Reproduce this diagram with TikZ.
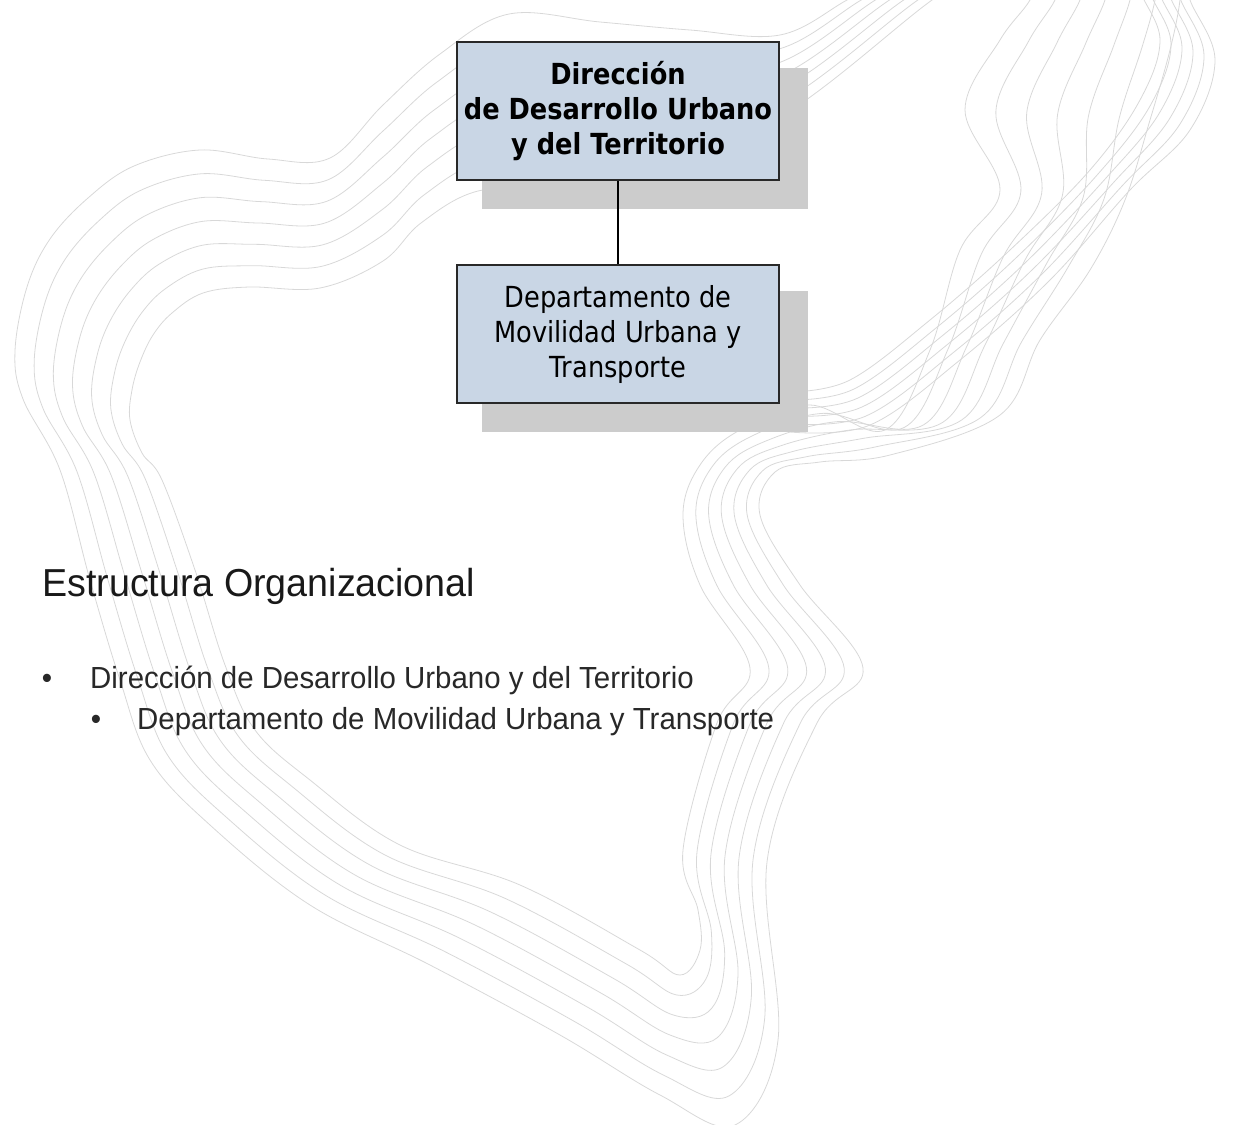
\documentclass[tikz,border=0pt]{standalone}
\usepackage{fontspec}
\usetikzlibrary{calc}
\newfontfamily\boxfont[FakeStretch=0.885]{DejaVu Sans}
\newfontfamily\helvfont[FakeStretch=0.965]{Liberation Sans}
\definecolor{boxblue}{RGB}{201,214,229}
\definecolor{boxedge}{RGB}{40,40,40}
\definecolor{shadowgray}{RGB}{204,204,204}
\definecolor{decorgray}{RGB}{216,216,216}
\definecolor{bodytext}{RGB}{40,40,40}
\pgfdeclarelayer{decor}
\pgfdeclarelayer{shade}
\pgfsetlayers{decor,shade,main}
\begin{document}
\begin{tikzpicture}[x=1pt,y=-1pt,
  orgbox/.style={draw=boxedge, line width=1.6pt, fill=boxblue,
    minimum width=322pt, minimum height=138pt, inner sep=0pt, align=center,
    font=\boxfont\fontsize{29}{35}\selectfont},
  decorline/.style={draw=decorgray, line width=0.8pt},
  shadowfill/.style={fill=shadowgray},
  linkline/.style={draw=black, line width=1.5pt},
  titletext/.style={anchor=base west, inner sep=0pt, text=black!90,
    font=\helvfont\fontsize{39}{45}\selectfont},
  itemtext/.style={anchor=base west, inner sep=0pt, text=bodytext,
    font=\helvfont\fontsize{30.5}{36}\selectfont},
  bulletmark/.style={anchor=base, inner sep=0pt, text=bodytext,
    font=\helvfont\fontsize{30.5}{36}\selectfont}]
\useasboundingbox (0,0) rectangle (1236,1124);

% ---- background wavy bundles ----
\begin{pgfonlayer}{decor}
\begin{scope}
\clip (0,0) rectangle (1236,1124);
\foreach \k in {0,...,6}{
  \pgfmathsetmacro{\t}{\k/6}
  \draw[decorline] plot[smooth, tension=0.6] coordinates {
    ($(900,-30)!\t!(985,-30)$) ($(847,0)!\t!(932,0)$) ($(780,35)!\t!(780,117)$)
    ($(690,30)!\t!(640,170)$) ($(600,22)!\t!(560,188)$) ($(509,14)!\t!(478,191)$)
    ($(440,54)!\t!(421,223)$) ($(383,105)!\t!(383,261)$) ($(330,158)!\t!(320,288)$)
    ($(268,159)!\t!(249,287)$) ($(200,150)!\t!(203,293)$) ($(134,166)!\t!(172,313)$)
    ($(88,198)!\t!(153,335)$) ($(50,239)!\t!(140,362)$) ($(27,287)!\t!(132,390)$)
    ($(15,351)!\t!(130,420)$) ($(23,399)!\t!(142,453)$) ($(60,470)!\t!(162,480)$)
    ($(90,580)!\t!(195,570)$) ($(120,680)!\t!(225,665)$) ($(150,760)!\t!(255,730)$)
    ($(210,825)!\t!(310,780)$) ($(310,905)!\t!(400,845)$) ($(430,965)!\t!(520,885)$)
    ($(560,1035)!\t!(640,950)$) ($(660,1095)!\t!(680,975)$) ($(735,1125)!\t!(700,950)$)
    ($(778,1040)!\t!(698,910)$) ($(767,862)!\t!(683,850)$) ($(817,723)!\t!(717,723)$)
    ($(863,668)!\t!(750,668)$) ($(800,585)!\t!(700,585)$) ($(760,515)!\t!(683,515)$)
    ($(775,472)!\t!(700,465)$) ($(820,462)!\t!(740,430)$) ($(890,455)!\t!(810,405)$)
    ($(1000,415)!\t!(885,430)$) ($(1040,340)!\t!(930,350)$) ($(1090,270)!\t!(960,250)$)
    ($(1125,200)!\t!(1000,190)$) ($(1150,120)!\t!(965,110)$) ($(1170,50)!\t!(1000,40)$)
    ($(1180,0)!\t!(1030,0)$) ($(1180,-30)!\t!(1040,-30)$)
  };
}
\foreach \k in {0,...,5}{
  \pgfmathsetmacro{\t}{\k/5}
  \draw[decorline] plot[smooth, tension=0.6] coordinates {
    ($(790,432)!\t!(790,392)$) ($(870,425)!\t!(850,380)$) ($(960,360)!\t!(930,320)$)
    ($(1050,280)!\t!(1010,250)$) ($(1130,190)!\t!(1090,170)$) ($(1190,130)!\t!(1140,100)$)
    ($(1215,60)!\t!(1160,40)$) ($(1190,0)!\t!(1140,-10)$) ($(1185,-30)!\t!(1140,-40)$)
  };
}
\end{scope}
\end{pgfonlayer}

% ---- org chart ----
\node[orgbox] (b1) at (618,111) {\bfseries Dirección\\\bfseries de Desarrollo Urbano\\\bfseries y del Territorio};
\node[orgbox] (b2) at (618,334) {Departamento de\\Movilidad Urbana y\\Transporte};

\begin{pgfonlayer}{shade}
\fill[shadowfill] ([shift={(26,27)}]b1.north west) rectangle ([shift={(28,28)}]b1.south east);
\fill[shadowfill] ([shift={(26,27)}]b2.north west) rectangle ([shift={(28,28)}]b2.south east);
\end{pgfonlayer}

\draw[linkline] (b1.south) -- (b2.north);

% ---- text ----
\node[titletext] (title) at (42,596) {Estructura Organizacional};
\node[bulletmark] (bul1) at (47,688) {•};
\node[itemtext] (item1) at (90,688) {Dirección de Desarrollo Urbano y del Territorio};
\node[bulletmark] (bul2) at (96,729) {•};
\node[itemtext] (item2) at (137,729) {Departamento de Movilidad Urbana y Transporte};
\end{tikzpicture}
\end{document}
